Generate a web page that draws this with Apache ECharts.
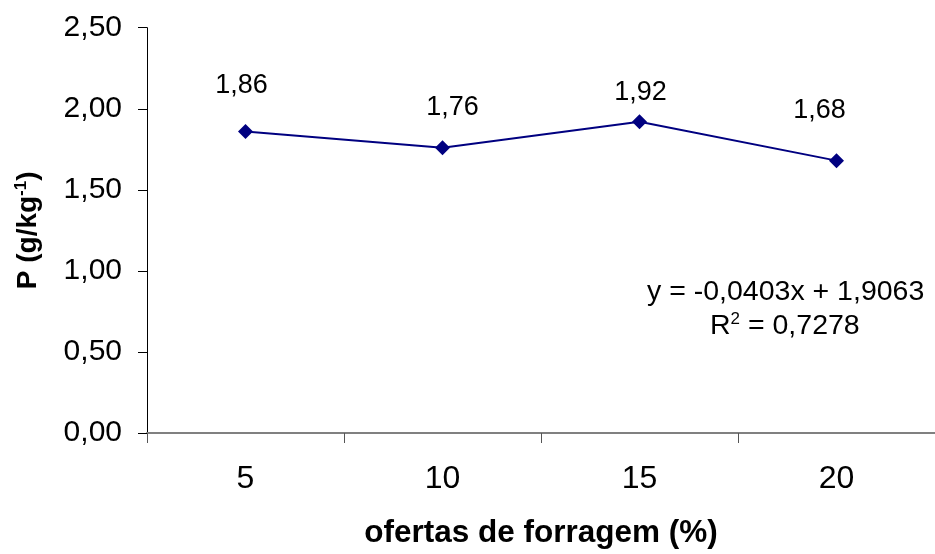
<!DOCTYPE html>
<html>
<head>
<meta charset="utf-8">
<script src="https://cdn.jsdelivr.net/npm/echarts@6/dist/echarts.min.js"></script>
<style>
  html, body { margin: 0; padding: 0; background: #fff; }
  #main { width: 935px; height: 554px; }
</style>
</head>
<body>
<div id="main"></div>
<script>
var ofertas = ['5', '10', '15', '20'];
var fosforo = [1.86, 1.76, 1.92, 1.68];
var yTicks = [0, 0.5, 1, 1.5, 2, 2.5];
var equacao = 'y = -0,0403x + 1,9063';
var r2 = '0,7278';

// where Excel placed each data label, relative to the point
var labelOffsets = [[-4, -11], [10, -5], [1, 6], [-17, -15]];

var font = '"Liberation Sans", Arial, sans-serif';

function fmt(v) {
  return v.toFixed(2).replace('.', ',');
}

var chartDom = document.getElementById('main');
var myChart = echarts.init(chartDom);
var option;

var seriesData = fosforo.map(function (v, i) {
  return {
    value: v,
    label: { offset: labelOffsets[i] }
  };
});

option = {
  animation: false,
  backgroundColor: '#ffffff',
  grid: {
    left: 147,
    top: 27.7,
    right: -9,
    bottom: 114.7,
    containLabel: false
  },
  xAxis: {
    type: 'category',
    data: ofertas,
    boundaryGap: true,
    name: 'ofertas de forragem (%)',
    nameLocation: 'middle',
    nameGap: 84,
    nameTextStyle: {
      fontFamily: font,
      fontSize: 31.5,
      fontWeight: 'bold',
      color: '#000'
    },
    axisLine: { lineStyle: { color: '#808080', width: 2 } },
    axisTick: { show: true, length: 10, lineStyle: { color: '#555', width: 1 } },
    axisLabel: {
      margin: 30,
      fontFamily: font,
      fontSize: 32,
      color: '#000'
    },
    splitLine: { show: false }
  },
  yAxis: {
    type: 'value',
    min: yTicks[0],
    max: yTicks[yTicks.length - 1],
    interval: 0.5,
    name: '{b|P (g/kg}{s|-1}{b|)}',
    nameLocation: 'middle',
    nameRotate: 90,
    nameGap: 103,
    nameTextStyle: {
      rich: {
        b: { fontFamily: font, fontSize: 28, fontWeight: 'bold', color: '#000' },
        s: { fontFamily: font, fontSize: 17, fontWeight: 'bold', color: '#000', verticalAlign: 'top', padding: [0, 0, 14, 0] }
      }
    },
    axisLine: { show: true, lineStyle: { color: '#000', width: 1 } },
    axisTick: { show: true, length: 9, lineStyle: { color: '#000', width: 1 } },
    axisLabel: {
      margin: 25,
      fontFamily: font,
      fontSize: 30,
      color: '#000',
      formatter: function (v) { return fmt(v); }
    },
    splitLine: { show: false }
  },
  series: [
    {
      name: 'P',
      type: 'line',
      data: seriesData,
      symbol: 'diamond',
      symbolSize: 15,
      lineStyle: { color: '#000080', width: 2 },
      itemStyle: { color: '#000080' },
      label: {
        show: true,
        position: 'top',
        distance: 14,
        fontFamily: font,
        fontSize: 27,
        color: '#000',
        formatter: function (p) { return fmt(p.value); }
      }
    }
  ],
  graphic: [
    {
      type: 'text',
      left: 647,
      top: 278,
      style: {
        text: equacao,
        font: '28.5px ' + font,
        fill: '#000'
      }
    },
    {
      type: 'text',
      left: 710,
      top: 311,
      style: {
        text: '{t|R}{s|2}{t| = ' + r2 + '}',
        rich: {
          t: { fontFamily: font, fontSize: 28.5, color: '#000' },
          s: { fontFamily: font, fontSize: 17, color: '#000', verticalAlign: 'top', padding: [0, 0, 14, 0] }
        }
      }
    }
  ]
};

option && myChart.setOption(option);
</script>
</body>
</html>
